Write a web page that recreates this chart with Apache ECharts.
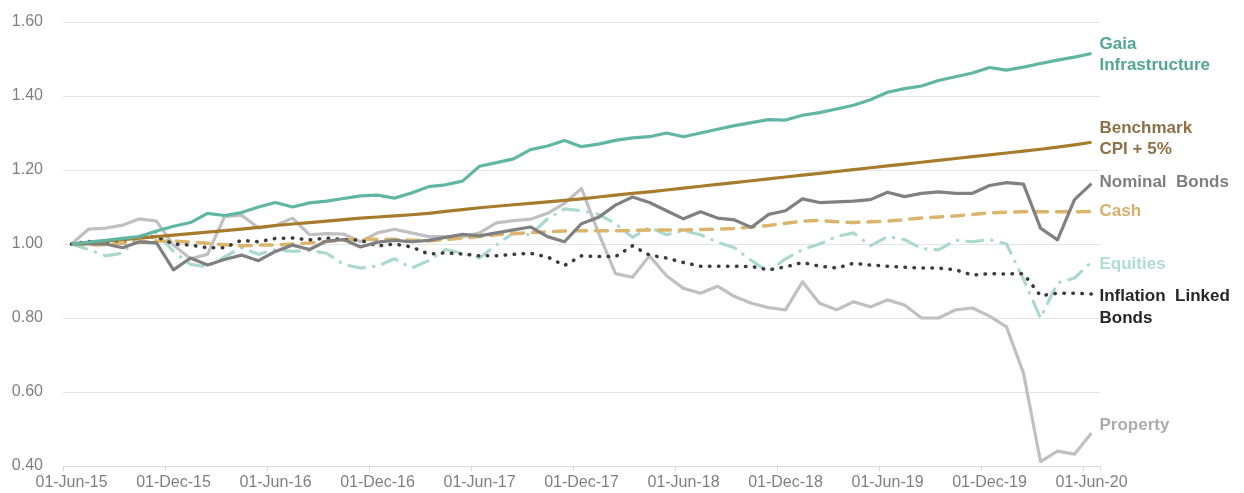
<!DOCTYPE html>
<html>
<head>
<meta charset="utf-8">
<script src="https://cdn.jsdelivr.net/npm/echarts@6/dist/echarts.min.js"></script>
<style>
  html, body { margin: 0; padding: 0; background: #fff; }
  #main { width: 1244px; height: 493px; }
</style>
</head>
<body>
<div id="main"></div>
<script>
// month labels, one per data point
var months = [
  "01-Jun-15","01-Jul-15","01-Aug-15","01-Sep-15","01-Oct-15","01-Nov-15",
  "01-Dec-15","01-Jan-16","01-Feb-16","01-Mar-16","01-Apr-16","01-May-16",
  "01-Jun-16","01-Jul-16","01-Aug-16","01-Sep-16","01-Oct-16","01-Nov-16",
  "01-Dec-16","01-Jan-17","01-Feb-17","01-Mar-17","01-Apr-17","01-May-17",
  "01-Jun-17","01-Jul-17","01-Aug-17","01-Sep-17","01-Oct-17","01-Nov-17",
  "01-Dec-17","01-Jan-18","01-Feb-18","01-Mar-18","01-Apr-18","01-May-18",
  "01-Jun-18","01-Jul-18","01-Aug-18","01-Sep-18","01-Oct-18","01-Nov-18",
  "01-Dec-18","01-Jan-19","01-Feb-19","01-Mar-19","01-Apr-19","01-May-19",
  "01-Jun-19","01-Jul-19","01-Aug-19","01-Sep-19","01-Oct-19","01-Nov-19",
  "01-Dec-19","01-Jan-20","01-Feb-20","01-Mar-20","01-Apr-20","01-May-20",
  "01-Jun-20"
];

var gaia = [
  1.000,1.005,1.010,1.015,1.020,1.035,1.048,1.058,1.083,1.077,1.085,1.100,
  1.112,1.100,1.111,1.116,1.123,1.130,1.132,1.124,1.138,1.155,1.160,1.170,
  1.210,1.220,1.230,1.255,1.265,1.280,1.263,1.270,1.280,1.287,1.290,1.300,
  1.290,1.300,1.310,1.320,1.328,1.336,1.335,1.348,1.355,1.365,1.375,1.390,
  1.410,1.420,1.427,1.442,1.452,1.462,1.477,1.470,1.478,1.488,1.497,1.505,
  1.515
];

var benchmark = [
  1.000,1.004,1.008,1.012,1.016,1.020,1.024,1.028,1.032,1.036,1.040,1.045,
  1.050,1.054,1.058,1.062,1.066,1.070,1.073,1.076,1.079,1.083,1.088,1.093,
  1.098,1.102,1.106,1.110,1.114,1.118,1.122,1.127,1.132,1.137,1.141,1.146,
  1.151,1.156,1.161,1.166,1.171,1.176,1.181,1.186,1.191,1.196,1.201,1.206,
  1.211,1.216,1.221,1.226,1.231,1.236,1.241,1.246,1.251,1.256,1.262,1.268,
  1.275
];

var nominalBonds = [
  1.000,1.000,1.000,0.990,1.006,1.003,0.930,0.962,0.943,0.958,0.970,0.955,
  0.980,0.997,0.985,1.008,1.012,0.992,1.005,1.010,1.006,1.010,1.018,1.026,
  1.022,1.030,1.038,1.046,1.020,1.006,1.055,1.072,1.105,1.127,1.112,1.090,
  1.068,1.087,1.070,1.065,1.045,1.080,1.090,1.122,1.112,1.114,1.116,1.120,
  1.140,1.128,1.137,1.141,1.137,1.137,1.158,1.166,1.162,1.043,1.011,1.120,
  1.163
];

var cash = [
  1.000,0.998,0.998,1.002,1.005,1.008,1.008,1.005,1.002,0.998,0.995,0.997,
  0.997,1.000,1.003,1.007,1.010,1.013,1.013,1.013,1.010,1.008,1.012,1.016,
  1.020,1.025,1.028,1.031,1.033,1.035,1.036,1.036,1.036,1.037,1.038,1.038,
  1.038,1.039,1.040,1.042,1.046,1.050,1.056,1.062,1.064,1.060,1.058,1.060,
  1.062,1.066,1.070,1.073,1.076,1.080,1.084,1.086,1.087,1.087,1.087,1.087,
  1.088
];

var equities = [
  1.000,0.985,0.968,0.975,1.022,1.030,0.980,0.945,0.938,0.965,0.990,0.972,
  0.985,0.980,0.982,0.975,0.945,0.935,0.940,0.960,0.935,0.955,0.985,0.975,
  0.962,0.998,1.030,1.025,1.068,1.095,1.090,1.080,1.055,1.018,1.045,1.025,
  1.036,1.025,1.005,0.990,0.955,0.925,0.960,0.985,1.000,1.020,1.030,0.995,
  1.020,1.012,0.988,0.984,1.010,1.006,1.012,1.000,0.905,0.800,0.895,0.908,
  0.952
];

var inflationLinked = [
  1.000,1.007,1.006,1.010,1.017,1.020,1.000,0.997,0.990,0.990,1.010,1.006,
  1.015,1.016,1.011,1.016,1.012,1.010,0.995,1.000,0.992,0.973,0.976,0.973,
  0.968,0.968,0.972,0.975,0.965,0.942,0.968,0.966,0.966,0.995,0.970,0.962,
  0.950,0.940,0.940,0.940,0.939,0.930,0.938,0.950,0.940,0.935,0.948,0.943,
  0.940,0.937,0.935,0.935,0.930,0.916,0.920,0.919,0.920,0.860,0.867,0.867,
  0.865
];

var property = [
  1.000,1.040,1.043,1.051,1.068,1.062,0.997,0.960,0.972,1.074,1.078,1.043,
  1.050,1.070,1.025,1.028,1.027,1.006,1.030,1.040,1.030,1.020,1.020,1.019,
  1.030,1.057,1.063,1.067,1.083,1.110,1.150,1.030,0.920,0.910,0.968,0.914,
  0.880,0.867,0.886,0.858,0.840,0.828,0.822,0.898,0.840,0.822,0.844,0.830,
  0.849,0.835,0.800,0.800,0.822,0.827,0.805,0.776,0.651,0.412,0.440,0.432,
  0.489
];

var yTicks = { min: 0.4, max: 1.6, step: 0.2 };

var FONT = "'Liberation Sans', Arial, sans-serif";

function line(name, data, color, width, dash, labelText, labelColor, dy, lh) {
  return {
    name: name,
    type: 'line',
    data: data,
    showSymbol: false,
    symbol: 'none',
    lineStyle: { color: color, width: width, type: dash || 'solid', cap: dash ? 'round' : 'butt', join: 'round' },
    endLabel: {
      show: true,
      formatter: labelText,
      color: labelColor,
      fontFamily: FONT,
      fontWeight: 'bold',
      fontSize: 17,
      lineHeight: lh || 21,
      distance: 8,
      offset: [0, dy || 0]
    }
  };
}

var myChart = echarts.init(document.getElementById('main'));

var option = {
  animation: false,
  backgroundColor: '#fff',
  grid: { left: 63, right: 144, top: 22, bottom: 27, containLabel: false },
  xAxis: {
    type: 'category',
    data: months,
    boundaryGap: true,
    axisLine: { lineStyle: { color: '#d9d9d9', width: 1 } },
    axisTick: { show: true, interval: 5, length: 5, lineStyle: { color: '#d9d9d9' } },
    axisLabel: { interval: 5, color: '#7f7f7f', fontFamily: FONT, fontSize: 16, margin: 9 },
    splitLine: { show: false }
  },
  yAxis: {
    type: 'value',
    min: yTicks.min,
    max: yTicks.max,
    interval: yTicks.step,
    axisLine: { show: false },
    axisTick: { show: false },
    axisLabel: {
      color: '#7f7f7f', fontFamily: FONT, fontSize: 16, margin: 20,
      padding: [3, 0, 0, 0],
      formatter: function (v) { return v.toFixed(2); }
    },
    splitLine: { lineStyle: { color: '#e3e3e3', width: 1 } }
  },
  series: [
    line('Property', property, '#c0c0c0', 3.2, null, 'Property', '#ababab', -8),
    line('Equities', equities, '#abd9cf', 3.2, [16, 9, 0.5, 9], 'Equities', '#b0ddd3', 3),
    line('Cash', cash, '#dab56c', 3.5, [12, 9], 'Cash', '#d5b06a', 0),
    line('Inflation Linked Bonds', inflationLinked, '#3a3a3a', 3.5, [0.5, 8.5], 'Inflation  Linked\nBonds', '#262626', 13, 22),
    line('Nominal Bonds', nominalBonds, '#808080', 3.2, null, 'Nominal  Bonds', '#7f7f7f', -1),
    line('Benchmark CPI + 5%', benchmark, '#a67c2c', 3.2, null, 'Benchmark\nCPI + 5%', '#8d7146', -3),
    line('Gaia Infrastructure', gaia, '#60b6a3', 3.2, null, 'Gaia\nInfrastructure', '#52a592', 1)
  ]
};

myChart.setOption(option);
</script>
</body>
</html>
